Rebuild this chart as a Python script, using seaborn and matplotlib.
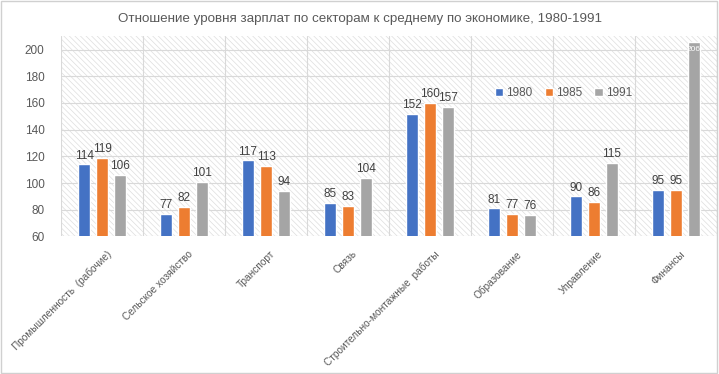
import pandas as pd
import numpy as np
import matplotlib.pyplot as plt
import seaborn as sns
from matplotlib.patches import Rectangle

# Data
sectors = ['Промышленность  (рабочие)', 'Сельское хозяйство', 'Транспорт', 'Связь',
           'Строительно-монтажные  работы', 'Образование', 'Управление', 'Финансы']
years = ['1980', '1985', '1991']
values_1980 = [114, 77, 117, 85, 152, 81, 90, 95]
values_1985 = [119, 82, 113, 83, 160, 77, 86, 95]
values_1991 = [106, 101, 94, 104, 157, 76, 115, 206]
y_ticks = [60, 80, 100, 120, 140, 160, 180, 200]

colors = ['#4472C4', '#ED7D31', '#A5A5A5']
text_gray = '#595959'

df = pd.DataFrame({
    'sector': sectors * 3,
    'year': [y for y in years for _ in sectors],
    'value': values_1980 + values_1985 + values_1991,
})

sns.set_style('white')
plt.rcParams['font.family'] = ['Liberation Sans', 'DejaVu Sans']
plt.rcParams['hatch.linewidth'] = 0.5

fig = plt.figure(figsize=(7.19, 3.74), dpi=100)
ax = fig.add_axes([0.085, 0.368, 0.912, 0.535])

# hatched plot-area background
ax.add_patch(Rectangle((0, 0), 1, 1, transform=ax.transAxes, facecolor='white',
                       edgecolor='#dedede', hatch='\\\\\\\\\\\\', linewidth=0, zorder=0))

sns.barplot(data=df, x='sector', y='value', hue='year', palette=colors,
            width=0.66, gap=0.33, ax=ax, zorder=3, saturation=1)

ax.set_ylim(60, 210)
ax.set_xlim(-0.5, len(sectors) - 0.5)
ax.set_yticks(y_ticks)
ax.set_xticks(np.arange(len(sectors)) + 0.05)
ax.set_xticklabels(sectors, rotation=45, ha='right', rotation_mode='anchor',
                   fontsize=7.3, color=text_gray)
ax.tick_params(axis='y', labelsize=8.5, labelcolor=text_gray, length=0, pad=12)
ax.tick_params(axis='x', length=0, pad=9)
ax.set_xlabel('')
ax.set_ylabel('')

# grid lines
for yv in y_ticks:
    ax.axhline(yv, color='#d9d9d9', linewidth=0.8, zorder=1)
for xv in np.arange(-0.5, len(sectors), 1.0):
    ax.axvline(xv, color='#d9d9d9', linewidth=0.8, zorder=1)
for side in ['top', 'right', 'left', 'bottom']:
    ax.spines[side].set_visible(False)

# data labels
for i, cont in enumerate(ax.containers):
    for bar in cont:
        h = bar.get_height()
        xc = bar.get_x() + bar.get_width() / 2
        if h > 200:
            ax.text(xc, h - 3, f'{h:.0f}', ha='center', va='top', fontsize=6,
                    color='white', zorder=5)
        else:
            ax.text(xc, h + 2, f'{h:.0f}', ha='center', va='bottom', fontsize=8.5,
                    color='#404040', zorder=5)

ax.legend(loc='upper left', bbox_to_anchor=(0.645, 0.80), ncol=3, frameon=False,
          fontsize=8.5, handlelength=0.7, handleheight=0.7, columnspacing=1.0,
          handletextpad=0.3, labelcolor=text_gray)

fig.suptitle('Отношение уровня зарплат по секторам к среднему по экономике, 1980-1991',
             y=0.965, fontsize=9.6, color=text_gray)

fig.patches.append(Rectangle((0.002, 0.003), 0.995, 0.994, transform=fig.transFigure,
                             fill=False, edgecolor='#d0d0d0', linewidth=1))

plt.savefig('out.png', dpi=100)
